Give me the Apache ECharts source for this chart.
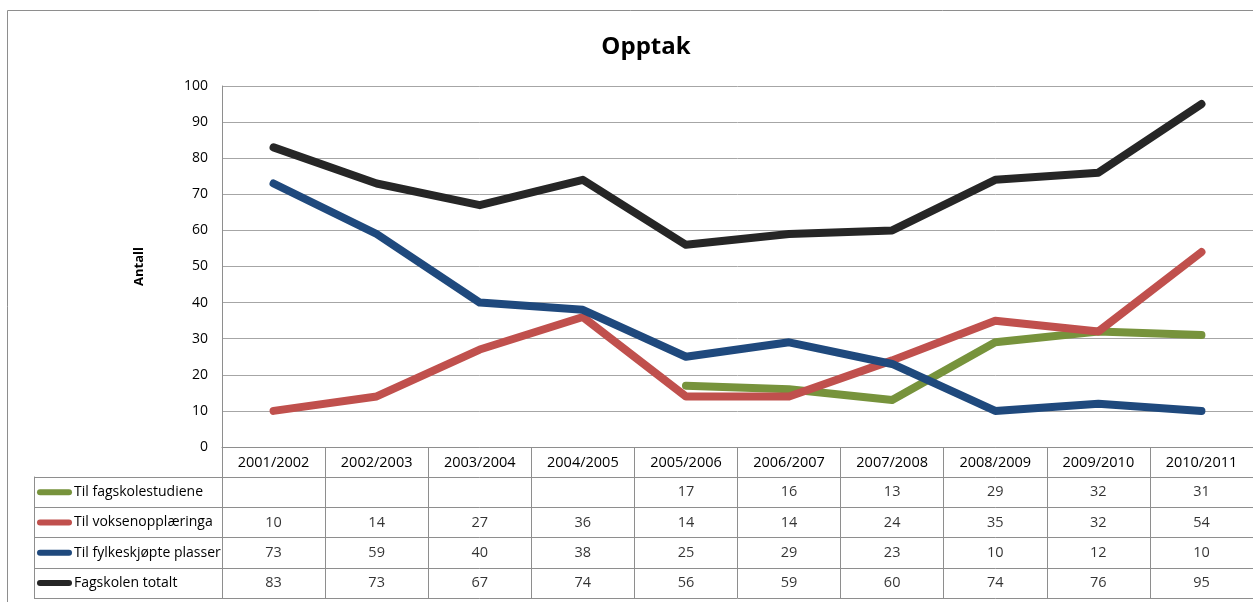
<!doctype html>
<html lang="nb">
<head>
    <meta charset="utf-8">
    <title>Opptak</title>
    <script src="https://cdn.jsdelivr.net/npm/echarts@6/dist/echarts.min.js"></script>
    <style>
        html, body { margin: 0; padding: 0; background: #fff; }
        #main { width: 1253px; height: 602px; }
    </style>
</head>
<body>
    <div id="main"></div>
    <script>
        // data (table below the plot)
        var years = ['2001/2002', '2002/2003', '2003/2004', '2004/2005', '2005/2006',
                     '2006/2007', '2007/2008', '2008/2009', '2009/2010', '2010/2011'];
        var fagskolestudiene = [null, null, null, null, 17, 16, 13, 29, 32, 31];
        var voksenopplaeringa = [10, 14, 27, 36, 14, 14, 24, 35, 32, 54];
        var fylkeskjopte = [73, 59, 40, 38, 25, 29, 23, 10, 12, 10];
        var totalt = [83, 73, 67, 74, 56, 59, 60, 74, 76, 95];
        var seriesNames = ['Til fagskolestudiene', 'Til voksenopplæringa', 'Til fylkeskjøpte plasser', 'Fagskolen totalt'];
        var yTicks = [0, 100, 10];

        var colors = ['#77933C', '#C0504D', '#1F497D', '#262626'];
        var rows = [fagskolestudiene, voksenopplaeringa, fylkeskjopte, totalt];
        var fontFam = '"Open Sans", "Liberation Sans", sans-serif';
        var borderCol = '#8e8e8e';

        // cell texts for the data table
        var cells = [];
        rows.forEach(function (r, ri) {
            r.forEach(function (v, ci) {
                if (v !== null) cells.push([ci, ri, v]);
            });
        });

        var rich = { t: { fontSize: 14, color: '#000', fontFamily: fontFam, padding: [0, 0, 0, 2] } };
        colors.forEach(function (c, i) {
            rich['k' + i] = { width: 35, height: 6, backgroundColor: c, borderRadius: 3 };
        });

        var myChart = echarts.init(document.getElementById('main'));
        var option = {
            animation: false,
            backgroundColor: '#fff',
            title: {
                text: 'Opptak',
                left: 641,
                top: 30,
                textAlign: 'center',
                textStyle: { fontSize: 24, fontWeight: 'bold', color: '#000', fontFamily: fontFam }
            },
            graphic: [{
                type: 'rect',
                shape: { x: 7.5, y: 10.5, width: 1400, height: 800 },
                style: { fill: null, stroke: borderCol, lineWidth: 1 },
                silent: true
            }],
            grid: [
                { left: 222, top: 86, width: 1037, height: 361 },
                { left: 222, top: 477, width: 1037, height: 121 }
            ],
            xAxis: [{
                type: 'category',
                gridIndex: 0,
                data: years,
                axisLine: { lineStyle: { color: borderCol } },
                axisTick: { show: true, length: 30, lineStyle: { color: borderCol } },
                axisLabel: { margin: 8, fontSize: 14.5, color: '#000', fontFamily: fontFam }
            }, {
                type: 'category',
                gridIndex: 1,
                data: years,
                position: 'top',
                axisLine: { show: false },
                axisTick: { show: false },
                axisLabel: { show: false },
                splitLine: { show: true, lineStyle: { color: borderCol } }
            }],
            yAxis: [{
                type: 'value',
                gridIndex: 0,
                min: yTicks[0],
                max: yTicks[1],
                interval: yTicks[2],
                name: 'Antall',
                nameLocation: 'middle',
                nameRotate: 90,
                nameGap: 76,
                nameTextStyle: { fontSize: 13, fontWeight: 'bold', color: '#000', fontFamily: fontFam },
                axisLine: { show: true, lineStyle: { color: borderCol } },
                axisTick: { show: false },
                axisLabel: { margin: 14, fontSize: 14, color: '#000', fontFamily: fontFam },
                splitLine: { lineStyle: { color: '#a6a6a6', width: 1 } }
            }, {
                type: 'category',
                gridIndex: 1,
                inverse: true,
                data: seriesNames,
                axisLine: { show: true, lineStyle: { color: borderCol } },
                axisTick: { show: true, length: 188, lineStyle: { color: borderCol } },
                axisLabel: {
                    align: 'left',
                    margin: 185,
                    formatter: function (v, i) { return '{k' + i + '|}{t|' + v + '}'; },
                    rich: rich
                },
                splitLine: { show: true, lineStyle: { color: borderCol } }
            }, {
                type: 'category',
                gridIndex: 1,
                inverse: true,
                data: seriesNames,
                position: 'left',
                offset: 188,
                axisLine: { show: true, lineStyle: { color: borderCol } },
                axisTick: { show: false },
                axisLabel: { show: false }
            }],
            series: rows.map(function (r, i) {
                return {
                    name: seriesNames[i],
                    type: 'line',
                    data: r,
                    xAxisIndex: 0,
                    yAxisIndex: 0,
                    symbol: 'none',
                    lineStyle: { color: colors[i], width: 8, cap: 'round', join: 'round' },
                    z: 3 + i
                };
            }).concat([{
                type: 'scatter',
                xAxisIndex: 1,
                yAxisIndex: 1,
                data: cells,
                symbolSize: 1,
                itemStyle: { color: 'rgba(0,0,0,0)' },
                label: {
                    show: true,
                    position: 'inside',
                    formatter: function (p) { return p.value[2]; },
                    fontSize: 14.5,
                    color: '#000',
                    fontFamily: fontFam
                }
            }])
        };
        myChart.setOption(option);
    </script>
</body>
</html>
